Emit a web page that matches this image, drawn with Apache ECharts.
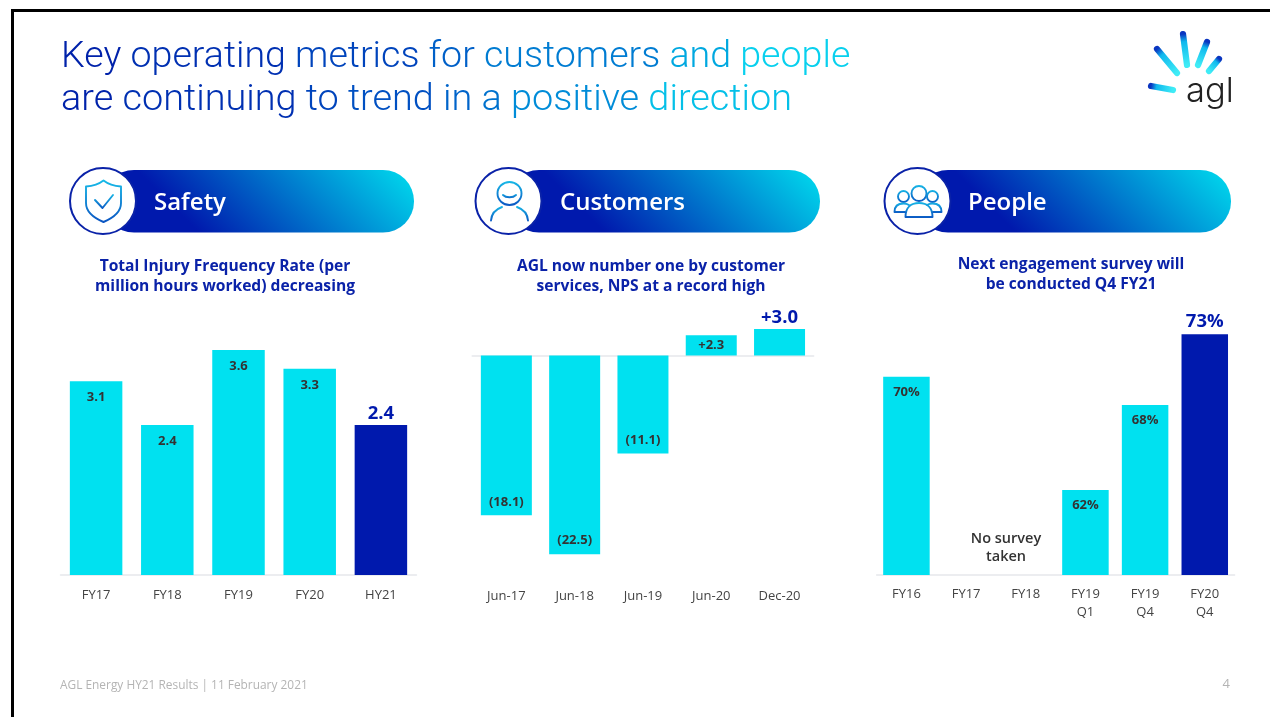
<!DOCTYPE html>
<html lang="en">
<head>
<meta charset="UTF-8">
<title>AGL key operating metrics</title>
<script src="https://cdn.jsdelivr.net/npm/echarts@6/dist/echarts.min.js"></script>
<style>
  html, body { margin: 0; padding: 0; background: #fff; }
  #chart { width: 1270px; height: 717px; }
</style>
</head>
<body>
<div id="chart"></div>
<script>
const safetyCategories = ['FY17', 'FY18', 'FY19', 'FY20', 'HY21'];
const safetyValues = [3.1, 2.4, 3.6, 3.3, 2.4];
const safetyLabels = ['3.1', '2.4', '3.6', '3.3', '2.4'];

const npsCategories = ['Jun-17', 'Jun-18', 'Jun-19', 'Jun-20', 'Dec-20'];
const npsValues = [-18.1, -22.5, -11.1, 2.3, 3.0];
const npsLabels = ['(18.1)', '(22.5)', '(11.1)', '+2.3', '+3.0'];

const peopleCategories = ['FY16', 'FY17', 'FY18', 'FY19\nQ1', 'FY19\nQ4', 'FY20\nQ4'];
const peopleValues = [70, null, null, 62, 68, 73];
const peopleLabels = ['70%', '', '', '62%', '68%', '73%'];

const CYAN = '#00e1f0';
const NAVY = '#0019ad';
const FONT = '"Open Sans", sans-serif';

// last bar/label of a panel is the highlighted one
function barData(values, labels, opts) {
  return values.map((v, i) => {
    const item = { value: v };
    const big = opts.bigIndex === i;
    item.itemStyle = { color: opts.navyIndex === i ? NAVY : CYAN };
    item.label = big
      ? { show: true, position: 'top', distance: opts.bigDistance, formatter: labels[i], fontSize: 18.5, fontWeight: 700, color: NAVY, fontFamily: FONT }
      : { show: !!labels[i], position: opts.positions ? opts.positions[i] : 'insideTop', distance: opts.distance, formatter: labels[i], fontSize: 13, fontWeight: 700, color: '#333', fontFamily: FONT };
    return item;
  });
}

function categoryAxis(gridIndex, data, margin) {
  return {
    type: 'category',
    gridIndex,
    data,
    axisTick: { show: false },
    axisLine: { show: true, lineStyle: { color: '#e6e8ec', width: 1.5 } },
    axisLabel: { color: '#444', fontSize: 13, fontFamily: FONT, margin, lineHeight: 18, interval: 0 }
  };
}

function pill(x1, x2, title, textX) {
  return [
    {
      type: 'rect',
      shape: { x: x1, y: 170, width: x2 - x1, height: 62.5, r: 31 },
      style: {
        fill: {
          type: 'linear', global: true, x: x2 - 235, y: 250, x2: x2 - 78, y2: 93,
          colorStops: [{ offset: 0, color: NAVY }, { offset: 0.12, color: NAVY }, { offset: 1, color: '#00dcee' }]
        }
      }
    },
    {
      type: 'text',
      style: { x: textX, y: 203, text: title, fill: '#fff', font: '600 24px ' + FONT, textVerticalAlign: 'middle' }
    }
  ];
}

function iconCircle(cx) {
  return { type: 'circle', shape: { cx, cy: 201, r: 33 }, style: { fill: '#fff', stroke: '#0a22a8', lineWidth: 2 } };
}

const iconGradient = {
  type: 'linear', x: 0, y: 0, x2: 0, y2: 1,
  colorStops: [{ offset: 0, color: '#18c0ea' }, { offset: 1, color: '#0a4fc0' }]
};

// graphic has no plain path type, so each outline gets registered as a shape
let iconCount = 0;
function icon(pathData) {
  const name = 'icon' + iconCount++;
  echarts.graphic.registerShape(name, echarts.graphic.extendPath(pathData));
  return { type: name, style: { fill: null, stroke: iconGradient, lineWidth: 1.9, lineCap: 'round', lineJoin: 'round' } };
}

function subtitle(cx, y, text) {
  return {
    type: 'text',
    style: { x: cx, y, text, fill: '#0a22a8', font: '700 15.6px ' + FONT, textAlign: 'center', textVerticalAlign: 'middle', lineHeight: 20 }
  };
}

// one colour per word, text fill can't take a gradient
function heading(y, size, words, colors) {
  const font = '300 ' + size + 'px Roboto, sans-serif';
  const rich = {};
  colors.forEach((c, i) => { rich['w' + i] = { fill: c, font }; });
  return {
    type: 'text',
    style: {
      x: 61, y,
      text: words.map((w, i) => '{w' + i + '|' + w + (i < words.length - 1 ? ' ' : '') + '}').join(''),
      rich,
      font,
      textVerticalAlign: 'middle'
    }
  };
}

function ray(x1, y1, x2, y2) {
  return {
    type: 'line',
    shape: { x1, y1, x2, y2 },
    style: {
      lineWidth: 6.2, lineCap: 'round',
      stroke: {
        type: 'linear', global: true, x: x1, y: y1, x2, y2,
        colorStops: [{ offset: 0, color: '#0a35c0' }, { offset: 0.25, color: '#10b8ee' }, { offset: 1, color: '#3fecf6' }]
      }
    }
  };
}

const graphics = [
  // slide frame
  { type: 'rect', shape: { x: 11, y: 9, width: 1259, height: 3 }, style: { fill: '#000' } },
  { type: 'rect', shape: { x: 11, y: 9, width: 3, height: 708 }, style: { fill: '#000' } },

  heading(58, 37.6, ['Key', 'operating', 'metrics', 'for', 'customers', 'and', 'people'],
    ['#0022aa', '#0030b2', '#0044bc', '#0060c8', '#007cd2', '#00a8e0', '#08d0ee']),
  heading(101, 37.85, ['are', 'continuing', 'to', 'trend', 'in', 'a', 'positive', 'direction'],
    ['#0022aa', '#0030b2', '#0044bc', '#0050c2', '#0064ca', '#0072ce', '#008cd8', '#04c0e8']),

  // logo
  ray(1157, 49, 1177, 73),
  ray(1183, 34, 1187, 65),
  ray(1207, 42, 1198, 65),
  ray(1219, 59, 1209, 71),
  ray(1151, 86, 1173, 90),
  { type: 'text', style: { x: 1186, y: 92, text: 'agl', fill: '#222', font: '300 34.5px Inter, sans-serif', textVerticalAlign: 'middle' } },

  ...pill(103, 414, 'Safety', 154),
  ...pill(508, 820, 'Customers', 560),
  ...pill(917, 1231, 'People', 968),
  iconCircle(103),
  iconCircle(508.5),
  iconCircle(917.5),

  // shield + tick
  icon('M103.5 180.5 C108 184 114 186 121 186.5 L121 203 C121 212 113 218 103.5 222 C94 218 86 212 86 203 L86 186.5 C93 186 99 184 103.5 180.5 Z'),
  icon('M95 200 L102.5 208 L113 195'),
  // person
  icon('M509.5 182 C516 182 521.5 187 521.5 193.5 C521.5 200 516 205 509.5 205 C503 205 497.5 200 497.5 193.5 C497.5 187 503 182 509.5 182 Z'),
  icon('M503 195 C506 198 513 198 516 195'),
  icon('M491 220.5 C491.5 214 495 209.5 502 207'),
  icon('M517 207 C524 209.5 527.5 214 528 220.5'),
  // group
  icon('M919 186 C923.2 186 926.5 189.3 926.5 193.5 C926.5 197.7 923.2 201 919 201 C914.8 201 911.5 197.7 911.5 193.5 C911.5 189.3 914.8 186 919 186 Z'),
  icon('M905.5 217 C905.5 207.5 911 203 919 203 C927 203 932.5 207.5 932.5 217 Z'),
  icon('M903.5 191 C906.5 191 909 193.5 909 196.5 C909 199.5 906.5 202 903.5 202 C900.5 202 898 199.5 898 196.5 C898 193.5 900.5 191 903.5 191 Z'),
  icon('M894.5 212 C894.5 206.5 898 203.5 903.5 203.5 C905.5 203.5 907.5 204 909 205 M905 212 L894.5 212'),
  icon('M932.5 191 C935.5 191 938 193.5 938 196.5 C938 199.5 935.5 202 932.5 202 C929.5 202 927 199.5 927 196.5 C927 193.5 929.5 191 932.5 191 Z'),
  icon('M941.5 212 C941.5 206.5 938 203.5 932.5 203.5 C930.5 203.5 928.5 204 927 205 M933 212 L941.5 212'),

  subtitle(225, 277, 'Total Injury Frequency Rate (per\nmillion hours worked) decreasing'),
  subtitle(651, 277, 'AGL now number one by customer\nservices, NPS at a record high'),
  subtitle(1071, 275, 'Next engagement survey will\nbe conducted Q4 FY21'),

  { type: 'text', style: { x: 1006, y: 548, text: 'No survey\ntaken', fill: '#333', font: '600 14.5px ' + FONT, textAlign: 'center', textVerticalAlign: 'middle', lineHeight: 18 } },

  // footer
  { type: 'text', style: { x: 60, y: 686, text: 'AGL Energy HY21 Results | 11 February 2021', fill: '#b4b4b4', font: '11.9px ' + FONT, textVerticalAlign: 'middle' } },
  { type: 'text', style: { x: 1230, y: 684, text: '4', fill: '#b4b4b4', font: '13px ' + FONT, textAlign: 'right', textVerticalAlign: 'middle' } }
];

const npsAxis = categoryAxis(1, npsCategories, 11);
npsAxis.axisLine = { show: false, onZero: false };

const option = {
  animation: false,
  grid: [
    { left: 60.5, width: 356, top: 325, height: 250 },
    { left: 472.2, width: 341.5, top: 311.35, height: 264.9 },
    { left: 876.6, width: 358, top: 320, height: 255 }
  ],
  xAxis: [
    categoryAxis(0, safetyCategories, 11),
    npsAxis,
    categoryAxis(2, peopleCategories, 10),
    // zero line of the NPS panel
    {
      type: 'category', gridIndex: 1, data: npsCategories,
      axisTick: { show: false }, axisLabel: { show: false },
      axisLine: { show: true, onZero: true, lineStyle: { color: '#e6e8ec', width: 1.5 } }
    }
  ],
  yAxis: [
    { type: 'value', gridIndex: 0, min: 0, max: 4, show: false },
    { type: 'value', gridIndex: 1, min: -25, max: 5, show: false },
    { type: 'value', gridIndex: 2, min: 56, max: 74, show: false }
  ],
  series: [
    {
      type: 'bar', xAxisIndex: 0, yAxisIndex: 0, barWidth: 52.5,
      data: barData(safetyValues, safetyLabels, { bigIndex: 4, navyIndex: 4, distance: 10, bigDistance: 2 })
    },
    {
      type: 'bar', xAxisIndex: 1, yAxisIndex: 1, barWidth: 51,
      data: barData(npsValues, npsLabels, { bigIndex: 4, distance: 7, bigDistance: 2, positions: ['insideBottom', 'insideBottom', 'insideBottom', 'inside', 'inside'] })
    },
    {
      type: 'bar', xAxisIndex: 2, yAxisIndex: 2, barWidth: 46.5,
      data: barData(peopleValues, peopleLabels, { bigIndex: 5, navyIndex: 5, distance: 9, bigDistance: 3 })
    }
  ],
  graphic: { elements: graphics }
};

const chart = echarts.init(document.getElementById('chart'));
chart.setOption(option);
</script>
</body>
</html>
